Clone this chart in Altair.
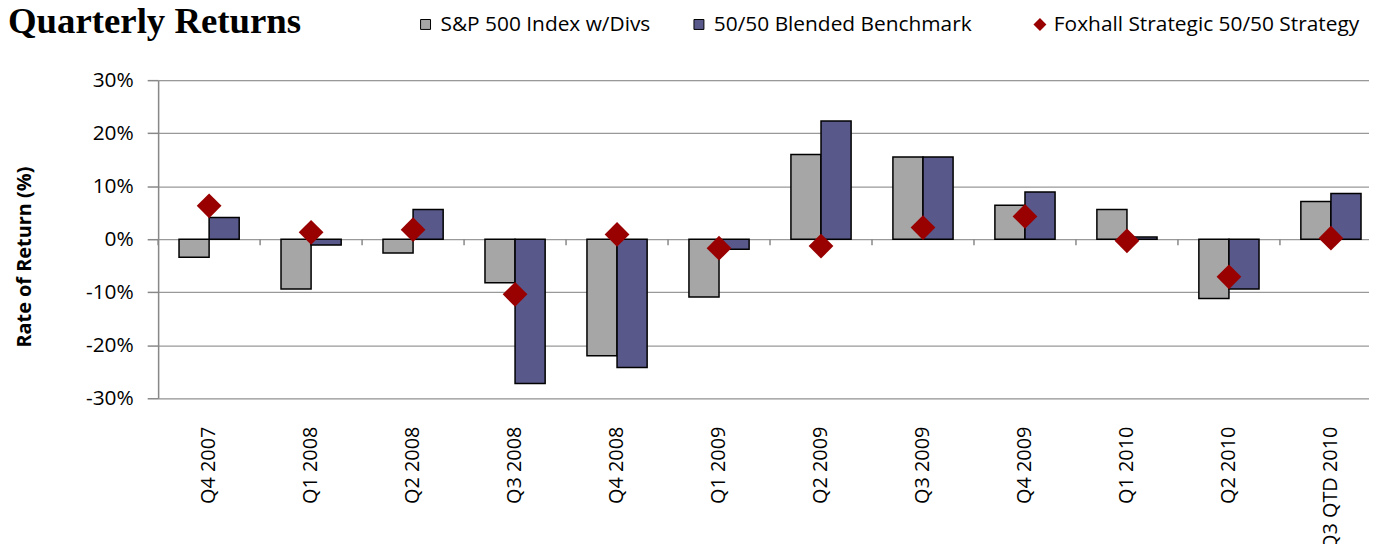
import altair as alt
import pandas as pd

quarters = ["Q4 2007", "Q1 2008", "Q2 2008", "Q3 2008", "Q4 2008", "Q1 2009",
            "Q2 2009", "Q3 2009", "Q4 2009", "Q1 2010", "Q2  2010", "Q3 QTD 2010"]
sp500 = [-3.4, -9.4, -2.6, -8.2, -22.0, -10.9, 16.0, 15.5, 6.4, 5.6, -11.2, 7.1]
blended = [4.1, -1.1, 5.6, -27.2, -24.2, -1.9, 22.3, 15.5, 8.9, 0.4, -9.4, 8.6]
foxhall = [6.3, 1.3, 1.8, -10.4, 0.9, -1.7, -1.3, 2.2, 4.3, -0.3, -7.1, 0.2]
series_names = ["S&P 500 Index w/Divs", "50/50 Blended Benchmark",
                "Foxhall Strategic 50/50 Strategy"]
y_ticks = [-30, -20, -10, 0, 10, 20, 30]
title_text = "Quarterly Returns"
y_title = "Rate of Return (%)"

GRAY = "#A6A6A6"
BLUE = "#58598A"
RED = "#990000"
FONT = "Open Sans"
X_RANGE = 1231
STEP = X_RANGE / len(quarters)

bars_df = pd.DataFrame(
    [{"quarter": q, "series": series_names[0], "value": v} for q, v in zip(quarters, sp500)]
    + [{"quarter": q, "series": series_names[1], "value": v} for q, v in zip(quarters, blended)]
)
pts_df = pd.DataFrame({"quarter": quarters, "value": foxhall})
q_df = pd.DataFrame({"quarter": quarters})
one = pd.DataFrame({"k": [0]})

x_enc = alt.X(
    "quarter:N",
    sort=quarters,
    scale=alt.Scale(domain=quarters, paddingInner=0.41, paddingOuter=0.205, range=[0, X_RANGE]),
    axis=alt.Axis(
        title=None, labelAngle=-90, labelAlign="right", labelBaseline="middle",
        labelPadding=28, labelFontSize=20, labelFont=FONT, labelColor="black",
        ticks=False, domain=False, grid=False, labelLimit=0,
    ),
)
y_axis = alt.Axis(
    title=y_title, values=y_ticks, labelExpr="datum.value + '%'",
    labelFontSize=21, labelFont=FONT, labelColor="black", labelPadding=14,
    tickSize=11, tickColor="#888888", tickWidth=1.5,
    domain=True, domainColor="#888888", domainWidth=1.5,
    grid=True, gridColor="#999999", gridWidth=1.3,
    titleFont=FONT, titleFontSize=20, titleFontWeight="bold", titleColor="black",
    titleAngle=270, titleX=-134, titleY=177.5, titleAlign="center", titleBaseline="middle",
)
y_scale = alt.Scale(domain=[-30, 30], nice=False, zero=False)

bars = alt.Chart(bars_df).mark_bar(stroke="black", strokeWidth=1.5).encode(
    x=x_enc,
    xOffset=alt.XOffset("series:N", sort=series_names[:2],
                        scale=alt.Scale(domain=series_names[:2], paddingInner=0, paddingOuter=0)),
    y=alt.Y("value:Q", scale=y_scale, axis=y_axis),
    fill=alt.Fill("series:N", scale=alt.Scale(domain=series_names[:2], range=[GRAY, BLUE]), legend=None),
)

zero_ticks = alt.Chart(q_df).mark_rule(color="#888888", strokeWidth=1.5, xOffset=-STEP / 2, y2Offset=6).encode(
    x=x_enc,
    y=alt.Y(datum=0, scale=y_scale, axis=y_axis),
    y2=alt.Y2(datum=0),
)

points = alt.Chart(pts_df).mark_point(shape="diamond", filled=True, size=620, color=RED, opacity=1).encode(
    x=x_enc,
    y=alt.Y("value:Q", scale=y_scale, axis=y_axis),
)

title = alt.Chart(one).mark_text(
    font="Liberation Serif", fontSize=37, fontWeight="bold", align="left", baseline="alphabetic", color="black"
).encode(x=alt.value(-151), y=alt.value(-47), text=alt.value(title_text))


def legend_item(shape, fill, sx, tx, label, stroke=True, size=100):
    sym = alt.Chart(one).mark_point(
        shape=shape, filled=True, size=size, fill=fill, opacity=1,
        stroke="black" if stroke else fill, strokeWidth=1 if stroke else 0,
    ).encode(x=alt.value(sx), y=alt.value(-56))
    txt = alt.Chart(one).mark_text(
        font=FONT, fontSize=21, align="left", baseline="alphabetic", color="black"
    ).encode(x=alt.value(tx), y=alt.value(-49), text=alt.value(label))
    return [sym, txt]


leg = (legend_item("square", GRAY, 269, 284, series_names[0])
       + legend_item("square", BLUE, 544, 559, series_names[1])
       + legend_item("diamond", RED, 887, 901, series_names[2], stroke=False, size=169))

chart = alt.layer(bars, zero_ticks, points, title, *leg).properties(
    width=1218, height=320,
    autosize=alt.AutoSizeParams(type="none"),
    padding={"left": 151, "top": 71, "right": 0, "bottom": 145},
).configure_view(stroke=None).configure(background="white")

chart.save("out.html", embed_options={"renderer": "svg", "actions": False})
